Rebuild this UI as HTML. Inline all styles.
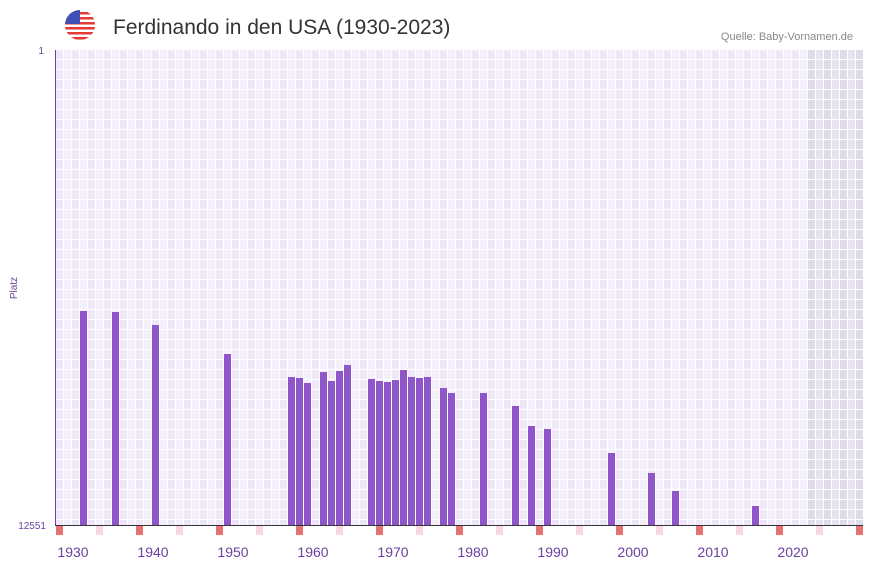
<!DOCTYPE html>
<html><head><meta charset="utf-8"><style>
body{margin:0;background:#fff;font-family:"Liberation Sans",sans-serif}
</style></head><body>
<svg width="873" height="567" xmlns="http://www.w3.org/2000/svg" font-family="Liberation Sans, sans-serif">
<defs>
<pattern id="g" x="56" y="50" width="16" height="10" patternUnits="userSpaceOnUse">
<rect width="16" height="10" fill="#fff"/>
<rect x="0" y="0" width="7" height="9" fill="#ede7f8"/>
<rect x="8" y="0" width="7" height="9" fill="#f3effb"/>
</pattern>
<pattern id="g2" x="56" y="50" width="16" height="10" patternUnits="userSpaceOnUse">
<rect width="16" height="10" fill="#fff"/>
<rect x="0" y="0" width="7" height="9" fill="#e0dbea"/>
<rect x="8" y="0" width="7" height="9" fill="#e6e2ee"/>
</pattern>
<clipPath id="fc"><circle cx="80" cy="25" r="15"/></clipPath>
</defs>
<g clip-path="url(#fc)">
<rect x="65" y="10" width="30" height="30" fill="#fff"/>
<rect x="65" y="12" width="30" height="2.5" fill="#e53935"/>
<rect x="65" y="17" width="30" height="2.5" fill="#e53935"/>
<rect x="65" y="22" width="30" height="2.5" fill="#e53935"/>
<rect x="65" y="27" width="30" height="2.5" fill="#e53935"/>
<rect x="65" y="32" width="30" height="2.5" fill="#e53935"/>
<rect x="65" y="37" width="30" height="2.5" fill="#e53935"/>
<rect x="65" y="10" width="15" height="14" fill="#3f51b5"/>
</g>
<text x="113" y="34" font-size="21" fill="#333">Ferdinando in den USA (1930-2023)</text>
<text x="853" y="40" font-size="11" fill="#888" text-anchor="end">Quelle: Baby-Vornamen.de</text>
<rect x="56" y="50" width="807" height="475" fill="url(#g)"/>
<rect x="808" y="50" width="55" height="475" fill="url(#g2)"/>
<line x1="55.5" y1="50" x2="55.5" y2="525" stroke="#6a3fa0" stroke-width="1"/>
<line x1="55" y1="525.5" x2="863" y2="525.5" stroke="#333" stroke-width="1"/>
<text x="44" y="54" font-size="10" fill="#6a3fa0" text-anchor="end">1</text>
<text x="46" y="529" font-size="10" fill="#6a3fa0" text-anchor="end">12551</text>
<text transform="translate(17,288) rotate(-90)" font-size="10" fill="#6a3fa0" text-anchor="middle">Platz</text>
<g fill="#8e56c9">
<rect x="80" y="311" width="7" height="214"/>
<rect x="112" y="312" width="7" height="213"/>
<rect x="152" y="325" width="7" height="200"/>
<rect x="224" y="354" width="7" height="171"/>
<rect x="288" y="377" width="7" height="148"/>
<rect x="296" y="378" width="7" height="147"/>
<rect x="304" y="383" width="7" height="142"/>
<rect x="320" y="372" width="7" height="153"/>
<rect x="328" y="381" width="7" height="144"/>
<rect x="336" y="371" width="7" height="154"/>
<rect x="344" y="365" width="7" height="160"/>
<rect x="368" y="379" width="7" height="146"/>
<rect x="376" y="381" width="7" height="144"/>
<rect x="384" y="382" width="7" height="143"/>
<rect x="392" y="380" width="7" height="145"/>
<rect x="400" y="370" width="7" height="155"/>
<rect x="408" y="377" width="7" height="148"/>
<rect x="416" y="378" width="7" height="147"/>
<rect x="424" y="377" width="7" height="148"/>
<rect x="440" y="388" width="7" height="137"/>
<rect x="448" y="393" width="7" height="132"/>
<rect x="480" y="393" width="7" height="132"/>
<rect x="512" y="406" width="7" height="119"/>
<rect x="528" y="426" width="7" height="99"/>
<rect x="544" y="429" width="7" height="96"/>
<rect x="608" y="453" width="7" height="72"/>
<rect x="648" y="473" width="7" height="52"/>
<rect x="672" y="491" width="7" height="34"/>
<rect x="752" y="506" width="7" height="19"/>
</g>
<g fill="#e57373">
<rect x="56" y="526" width="7" height="9"/><rect x="136" y="526" width="7" height="9"/><rect x="216" y="526" width="7" height="9"/><rect x="296" y="526" width="7" height="9"/><rect x="376" y="526" width="7" height="9"/><rect x="456" y="526" width="7" height="9"/><rect x="536" y="526" width="7" height="9"/><rect x="616" y="526" width="7" height="9"/><rect x="696" y="526" width="7" height="9"/><rect x="776" y="526" width="7" height="9"/><rect x="856" y="526" width="7" height="9"/>
</g>
<g fill="#f6d8de">
<rect x="96" y="526" width="7" height="9"/><rect x="176" y="526" width="7" height="9"/><rect x="256" y="526" width="7" height="9"/><rect x="336" y="526" width="7" height="9"/><rect x="416" y="526" width="7" height="9"/><rect x="496" y="526" width="7" height="9"/><rect x="576" y="526" width="7" height="9"/><rect x="656" y="526" width="7" height="9"/><rect x="736" y="526" width="7" height="9"/><rect x="816" y="526" width="7" height="9"/>
</g>
<g font-size="14" fill="#6a3fa0" text-anchor="middle">
<text x="73" y="557">1930</text><text x="153" y="557">1940</text><text x="233" y="557">1950</text><text x="313" y="557">1960</text><text x="393" y="557">1970</text><text x="473" y="557">1980</text><text x="553" y="557">1990</text><text x="633" y="557">2000</text><text x="713" y="557">2010</text><text x="793" y="557">2020</text>
</g>
</svg>
</body></html>
